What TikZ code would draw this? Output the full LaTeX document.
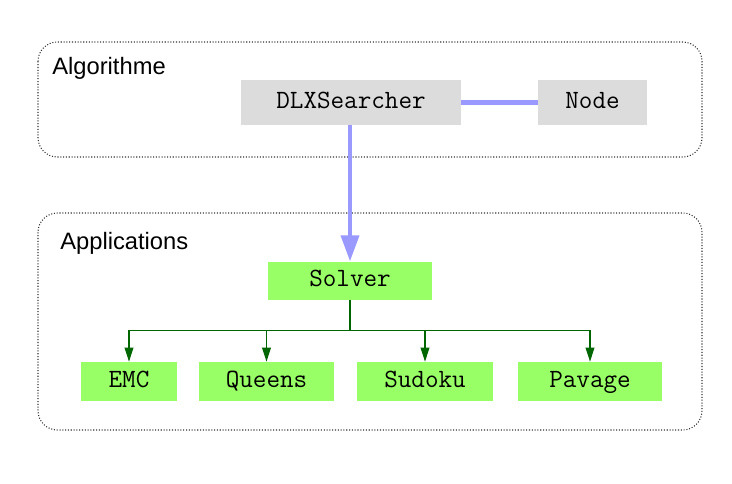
\documentclass[tikz,border=0pt]{standalone}
\usepackage{fontspec}
\setmainfont{Liberation Sans}
\usepackage{tikz}
\usetikzlibrary{arrows.meta, calc}

\definecolor{boxGray}{RGB}{220,220,220}
\definecolor{boxGreen}{RGB}{153,255,102}
\definecolor{linkBlue}{RGB}{153,153,255}
\definecolor{treeGreen}{RGB}{0,102,0}

\begin{document}
\begin{tikzpicture}[x=0.02cm, y=-0.02cm]
            \tikzset{
                group/.style={
                    draw=black!80, densely dotted, line width=0.6pt,
                    rounded corners=11pt
                },
                grouplabel/.style={
                    anchor=base west, inner sep=0pt,
                    font=\fontsize{13.5}{16}\selectfont
                },
                classbox/.style={
                    draw=none, inner sep=0pt, minimum height=0.9cm,
                    text height=1.6ex, text depth=0.4ex,
                    font=\ttfamily\fontsize{15}{18}\selectfont
                },
                algobox/.style={classbox, fill=boxGray},
                appbox/.style={classbox, fill=boxGreen, minimum height=0.78cm},
                link/.style={linkBlue, line width=2.8pt},
                tree/.style={treeGreen, line width=0.7pt},
                tree arrow/.style={
                    tree, -{Triangle[width=5pt, length=8pt]}
                }
            }

            \useasboundingbox (0,0) rectangle (732,483);

            % --- TOP: Algorithme ---
            \draw[group] (38,42) rectangle (702,157);
            \node[grouplabel] (algoLabel) at (52,74) {Algorithme};

            \node[algobox, minimum width=4.4cm] (searcher) at (351,102.5) {DLXSearcher};
            \node[algobox, minimum width=2.18cm] (dlxnode) at (592.5,102.5) {Node};

            % the searcher uses the nodes
            \draw[link] (searcher.east) -- (dlxnode.west);

            % --- BOTTOM: Applications ---
            \draw[group] (38,213) rectangle (702,430);
            \node[grouplabel] (appLabel) at (60,249) {Applications};

            \node[appbox, minimum width=3.28cm, minimum height=0.76cm] (solver) at (350,281) {Solver};

            \node[appbox, minimum width=1.92cm] (emc)    at (129,381.5) {EMC};
            \node[appbox, minimum width=2.7cm]  (queens) at (266.5,381.5) {Queens};
            \node[appbox, minimum width=2.72cm] (sudoku) at (425,381.5) {Sudoku};
            \node[appbox, minimum width=2.88cm] (pavage) at (590,381.5) {Pavage};

            % Solver is built on top of DLXSearcher
            \draw[link, -{Triangle[width=10pt, length=15pt]}]
                (searcher.south -| solver.north) -- (solver.north);

            % Tree: Solver -> applications
            \coordinate (fork) at ($(solver.south) + (0,30)$);
            \draw[tree] (solver.south) -- (fork);
            \draw[tree] (emc.north |- fork) -- (pavage.north |- fork);
            \foreach \app in {emc, queens, sudoku, pavage} {
                \draw[tree arrow] (\app.north |- fork) -- (\app.north);
            }
        \end{tikzpicture}
\end{document}
